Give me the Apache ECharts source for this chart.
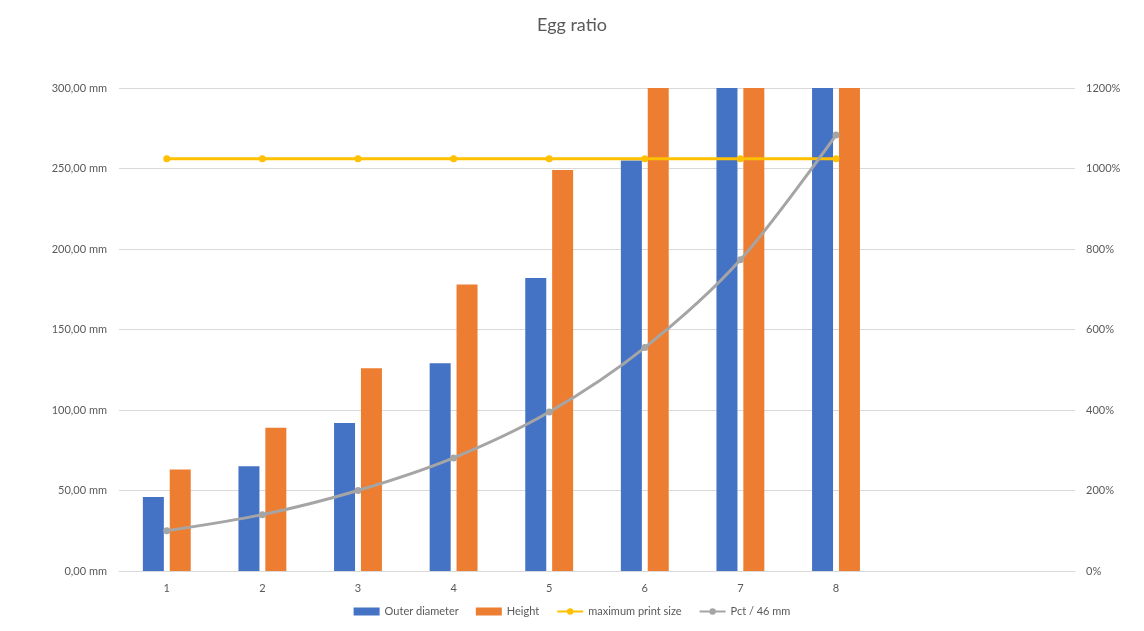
<!DOCTYPE html>
<html lang="en">
<head>
    <meta charset="UTF-8">
    <title>Egg ratio</title>
    <script src="https://cdn.jsdelivr.net/npm/echarts@6/dist/echarts.min.js"></script>
    <style>
        html, body { margin: 0; padding: 0; background: #fff; }
    </style>
</head>
<body>
 <div id="myChart" style="width: 1144px;height: 631px;"></div>
 <script>
     // categories (the last two slots are empty in the original)
     var categories = ['1', '2', '3', '4', '5', '6', '7', '8', '', ''];
     var outerDiameter = [46, 65, 92, 129, 182, 255, 356, 498];
     var eggHeight = [63, 89, 126, 178, 249, 349, 488, 683];
     var maxPrintSize = [256, 256, 256, 256, 256, 256, 256, 256];
     var pctOf46 = [100, 140, 200, 281, 395, 555, 773, 1083];

     var textColor = '#595959';
     var fontFamily = 'Lato, "Open Sans", sans-serif';

     var option = {
         backgroundColor: '#fff',
         textStyle: { fontFamily: fontFamily },
         title: {
             text: 'Egg ratio',
             left: 'center',
             top: 11,
             textStyle: { color: textColor, fontSize: 18, fontWeight: 'normal', fontFamily: fontFamily }
         },
         legend: {
             bottom: 9,
             itemGap: 17,
             itemWidth: 26,
             itemHeight: 8,
             textStyle: { color: textColor, fontSize: 11, fontFamily: fontFamily },
             data: [
                 { name: 'Outer diameter', icon: 'rect' },
                 { name: 'Height', icon: 'rect' },
                 'maximum print size',
                 'Pct / 46 mm'
             ]
         },
         grid: { left: 119, right: 69, top: 88, bottom: 60 },
         xAxis: {
             type: 'category',
             data: categories,
             axisLine: { lineStyle: { color: '#d9d9d9' } },
             axisTick: { show: false },
             axisLabel: { color: textColor, fontSize: 11, margin: 12 }
         },
         yAxis: [
             {
                 type: 'value',
                 min: 0,
                 max: 300,
                 interval: 50,
                 axisLine: { show: false },
                 axisTick: { show: false },
                 splitLine: { lineStyle: { color: '#d9d9d9' } },
                 axisLabel: {
                     color: textColor,
                     fontSize: 11,
                     margin: 12,
                     formatter: function (v) { return v.toFixed(2).replace('.', ',') + ' mm'; }
                 }
             },
             {
                 type: 'value',
                 min: 0,
                 max: 1200,
                 interval: 200,
                 axisLine: { show: false },
                 axisTick: { show: false },
                 splitLine: { show: false },
                 axisLabel: {
                     color: textColor,
                     fontSize: 11,
                     margin: 11,
                     formatter: function (v) { return v + '%'; }
                 }
             }
         ],
         series: [
             {
                 name: 'Outer diameter',
                 type: 'bar',
                 barWidth: 21,
                 barGap: '28%',
                 clip: true,
                 itemStyle: { color: '#4472C4' },
                 data: outerDiameter
             },
             {
                 name: 'Height',
                 type: 'bar',
                 barWidth: 21,
                 barGap: '28%',
                 clip: true,
                 itemStyle: { color: '#ED7D31' },
                 data: eggHeight
             },
             {
                 name: 'maximum print size',
                 type: 'line',
                 symbol: 'circle',
                 symbolSize: 7,
                 lineStyle: { color: '#FFC000', width: 3 },
                 itemStyle: { color: '#FFC000' },
                 data: maxPrintSize
             },
             {
                 name: 'Pct / 46 mm',
                 type: 'line',
                 yAxisIndex: 1,
                 smooth: 0.3,
                 symbol: 'circle',
                 symbolSize: 7,
                 lineStyle: { color: '#A5A5A5', width: 3 },
                 itemStyle: { color: '#A5A5A5' },
                 data: pctOf46
             }
         ]
     };

     var myChart = echarts.init(document.getElementById('myChart'));
     myChart.setOption(option);
 </script>
</body>
</html>
